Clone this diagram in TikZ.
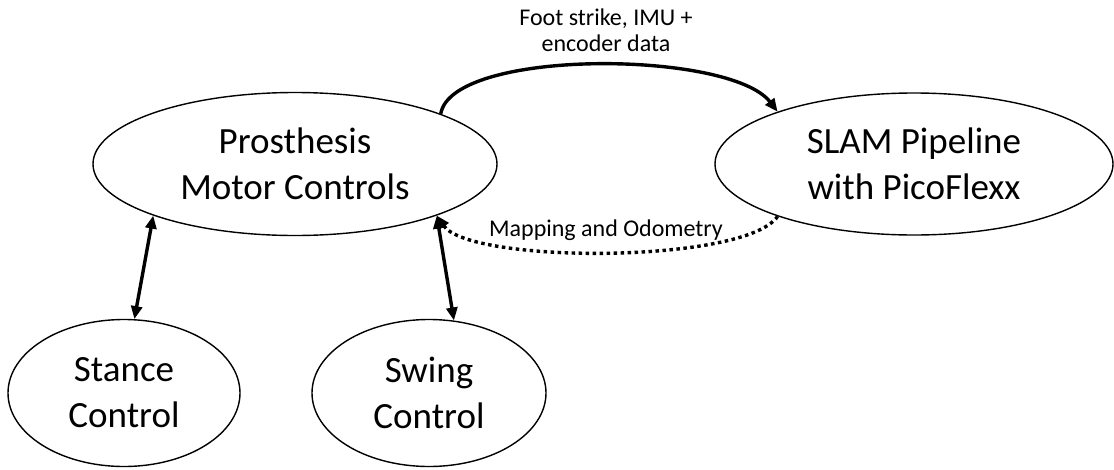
\documentclass[tikz,border=0pt]{standalone}
\usepackage{fontspec}
\setmainfont{Carlito}
\usetikzlibrary{shapes.geometric,arrows.meta}
\begin{document}
\begin{tikzpicture}[x=1pt,y=-1pt,
  state/.style={draw=black, line width=1.4pt, ellipse, inner sep=0pt, align=center,
    font=\fontsize{37}{46}\selectfont},
  lbl/.style={align=center, inner sep=0pt, font=\fontsize{24}{26}\selectfont},
  tip/.style={-{Triangle[length=13pt,width=11pt]}},
  both/.style={{Triangle[length=13pt,width=11pt]}-{Triangle[length=13pt,width=11pt]}},
  thick arrow/.style={line width=3.4pt}]
\useasboundingbox (0,0) rectangle (1114,469);
\node[state, minimum width=404pt, minimum height=143pt] (P) at (295,164) {Prosthesis\\Motor Controls};
\node[state, minimum width=398pt, minimum height=142pt] (S) at (914,164) {SLAM Pipeline\\with PicoFlexx};
\node[state, minimum width=232pt, minimum height=147pt] (St) at (124,393) {Stance\\Control};
\node[state, minimum width=234pt, minimum height=147pt] (Sw) at (429,393) {Swing\\Control};
\node[lbl] (l1) at (606,30) {Foot strike, IMU +\\encoder data};
\node[lbl] (l2) at (606,230) {Mapping and Odometry};
\draw[thick arrow, tip] (P.19.5) .. controls (452,48) and (730,50) .. (S.159.8);
\draw[thick arrow, tip, line cap=butt, dash pattern=on 3.5pt off 3.5pt] (S.201.9) .. controls (745,264) and (470,264) .. (P.340);
\draw[thick arrow, both] (P.200) -- (St.82);
\draw[thick arrow, both] (P.340) -- (Sw.71);
\end{tikzpicture}
\end{document}
